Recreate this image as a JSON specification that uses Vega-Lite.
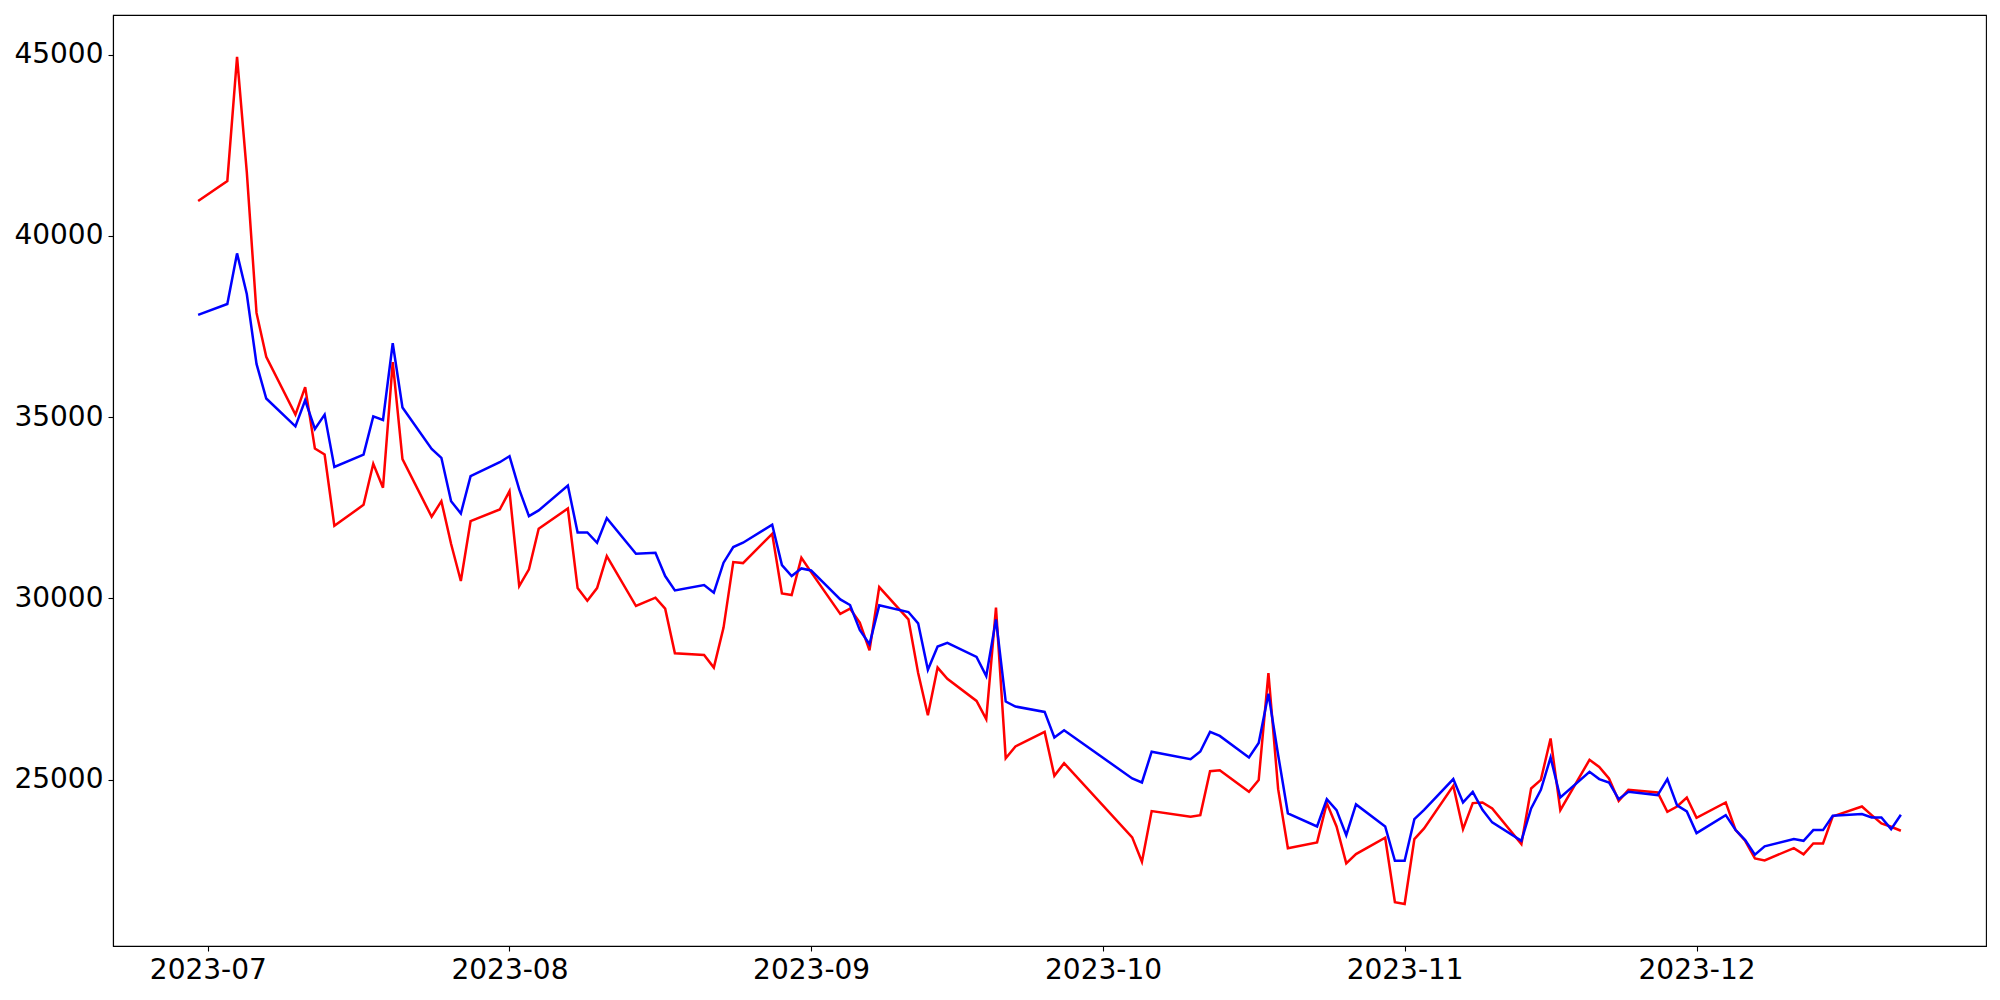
{
  "$schema": "https://vega.github.io/schema/vega-lite/v6.json",
  "width": 1873,
  "height": 931,
  "autosize": {"type": "none"},
  "padding": {"left": 113, "top": 15, "right": 14, "bottom": 54},
  "background": "white",
  "config": {
    "view": {"stroke": "black", "strokeWidth": 1.1},
    "axis": {
      "grid": false,
      "domainColor": "black",
      "domainWidth": 1.1,
      "tickColor": "black",
      "tickWidth": 1.1,
      "tickSize": 5,
      "labelFont": "DejaVu Sans",
      "labelFontSize": 28,
      "labelColor": "black",
      "labelPadding": 5,
      "title": null
    }
  },
  "data": {"values": [
    {"date": "2023-06-30", "r": 40961, "b": 37817},
    {"date": "2023-07-03", "r": 41512, "b": 38118},
    {"date": "2023-07-04", "r": 44937, "b": 39515},
    {"date": "2023-07-05", "r": 41760, "b": 38394},
    {"date": "2023-07-06", "r": 37873, "b": 36465},
    {"date": "2023-07-07", "r": 36663, "b": 35512},
    {"date": "2023-07-10", "r": 35068, "b": 34743},
    {"date": "2023-07-11", "r": 35826, "b": 35462},
    {"date": "2023-07-12", "r": 34132, "b": 34674},
    {"date": "2023-07-13", "r": 33966, "b": 35068},
    {"date": "2023-07-14", "r": 31999, "b": 33622},
    {"date": "2023-07-17", "r": 32578, "b": 33966},
    {"date": "2023-07-18", "r": 33710, "b": 35019},
    {"date": "2023-07-19", "r": 33052, "b": 34919},
    {"date": "2023-07-20", "r": 36515, "b": 37035},
    {"date": "2023-07-21", "r": 33840, "b": 35264},
    {"date": "2023-07-24", "r": 32250, "b": 34123},
    {"date": "2023-07-25", "r": 32680, "b": 33875},
    {"date": "2023-07-26", "r": 31500, "b": 32680},
    {"date": "2023-07-27", "r": 30477, "b": 32341},
    {"date": "2023-07-28", "r": 32128, "b": 33368},
    {"date": "2023-07-31", "r": 32451, "b": 33754},
    {"date": "2023-08-01", "r": 32955, "b": 33920},
    {"date": "2023-08-02", "r": 30338, "b": 33003},
    {"date": "2023-08-03", "r": 30798, "b": 32267},
    {"date": "2023-08-04", "r": 31920, "b": 32424},
    {"date": "2023-08-07", "r": 32478, "b": 33112},
    {"date": "2023-08-08", "r": 30283, "b": 31817},
    {"date": "2023-08-09", "r": 29936, "b": 31817},
    {"date": "2023-08-10", "r": 30283, "b": 31533},
    {"date": "2023-08-11", "r": 31165, "b": 32212},
    {"date": "2023-08-14", "r": 29788, "b": 31230},
    {"date": "2023-08-16", "r": 30019, "b": 31257},
    {"date": "2023-08-17", "r": 29715, "b": 30614},
    {"date": "2023-08-18", "r": 28484, "b": 30219},
    {"date": "2023-08-21", "r": 28437, "b": 30366},
    {"date": "2023-08-22", "r": 28090, "b": 30157},
    {"date": "2023-08-23", "r": 29192, "b": 30983},
    {"date": "2023-08-24", "r": 31000, "b": 31413},
    {"date": "2023-08-25", "r": 30972, "b": 31533},
    {"date": "2023-08-28", "r": 31781, "b": 32029},
    {"date": "2023-08-29", "r": 30137, "b": 30917},
    {"date": "2023-08-30", "r": 30090, "b": 30614},
    {"date": "2023-08-31", "r": 31120, "b": 30825},
    {"date": "2023-09-01", "r": 30724, "b": 30770},
    {"date": "2023-09-04", "r": 29570, "b": 29971},
    {"date": "2023-09-05", "r": 29715, "b": 29815},
    {"date": "2023-09-06", "r": 29330, "b": 29126},
    {"date": "2023-09-07", "r": 28567, "b": 28732},
    {"date": "2023-09-08", "r": 30311, "b": 29806},
    {"date": "2023-09-11", "r": 29420, "b": 29622},
    {"date": "2023-09-12", "r": 27940, "b": 29310},
    {"date": "2023-09-13", "r": 26775, "b": 28030},
    {"date": "2023-09-14", "r": 28090, "b": 28669},
    {"date": "2023-09-15", "r": 27780, "b": 28770},
    {"date": "2023-09-18", "r": 27170, "b": 28383},
    {"date": "2023-09-19", "r": 26666, "b": 27858},
    {"date": "2023-09-20", "r": 29743, "b": 29420},
    {"date": "2023-09-21", "r": 25590, "b": 27153},
    {"date": "2023-09-22", "r": 25913, "b": 27015},
    {"date": "2023-09-25", "r": 26316, "b": 26867},
    {"date": "2023-09-26", "r": 25104, "b": 26161},
    {"date": "2023-09-27", "r": 25454, "b": 26363},
    {"date": "2023-10-04", "r": 23407, "b": 25031},
    {"date": "2023-10-05", "r": 22734, "b": 24921},
    {"date": "2023-10-06", "r": 24130, "b": 25770},
    {"date": "2023-10-10", "r": 23974, "b": 25563},
    {"date": "2023-10-11", "r": 24020, "b": 25775},
    {"date": "2023-10-12", "r": 25233, "b": 26316},
    {"date": "2023-10-13", "r": 25260, "b": 26205},
    {"date": "2023-10-16", "r": 24663, "b": 25610},
    {"date": "2023-10-17", "r": 24990, "b": 26010},
    {"date": "2023-10-18", "r": 27940, "b": 27370},
    {"date": "2023-10-19", "r": 24737, "b": 25680},
    {"date": "2023-10-20", "r": 23105, "b": 24070},
    {"date": "2023-10-23", "r": 23269, "b": 23708},
    {"date": "2023-10-24", "r": 24351, "b": 24460},
    {"date": "2023-10-25", "r": 23708, "b": 24157},
    {"date": "2023-10-26", "r": 22690, "b": 23468},
    {"date": "2023-10-27", "r": 22946, "b": 24315},
    {"date": "2023-10-30", "r": 23396, "b": 23708},
    {"date": "2023-10-31", "r": 21616, "b": 22762},
    {"date": "2023-11-01", "r": 21570, "b": 22762},
    {"date": "2023-11-02", "r": 23360, "b": 23910},
    {"date": "2023-11-03", "r": 23654, "b": 24167},
    {"date": "2023-11-06", "r": 24828, "b": 25013},
    {"date": "2023-11-07", "r": 23635, "b": 24370},
    {"date": "2023-11-08", "r": 24351, "b": 24663},
    {"date": "2023-11-09", "r": 24370, "b": 24167},
    {"date": "2023-11-10", "r": 24204, "b": 23819},
    {"date": "2023-11-13", "r": 23221, "b": 23312},
    {"date": "2023-11-14", "r": 24755, "b": 24204},
    {"date": "2023-11-15", "r": 24994, "b": 24718},
    {"date": "2023-11-16", "r": 26134, "b": 25610},
    {"date": "2023-11-17", "r": 24158, "b": 24508},
    {"date": "2023-11-20", "r": 25545, "b": 25214},
    {"date": "2023-11-21", "r": 25351, "b": 25013},
    {"date": "2023-11-22", "r": 25031, "b": 24921},
    {"date": "2023-11-23", "r": 24414, "b": 24460},
    {"date": "2023-11-24", "r": 24718, "b": 24663},
    {"date": "2023-11-27", "r": 24645, "b": 24572},
    {"date": "2023-11-28", "r": 24112, "b": 25013},
    {"date": "2023-11-29", "r": 24258, "b": 24288},
    {"date": "2023-11-30", "r": 24506, "b": 24122},
    {"date": "2023-12-01", "r": 23947, "b": 23525},
    {"date": "2023-12-04", "r": 24370, "b": 24020},
    {"date": "2023-12-05", "r": 23616, "b": 23616},
    {"date": "2023-12-06", "r": 23312, "b": 23331},
    {"date": "2023-12-07", "r": 22827, "b": 22930},
    {"date": "2023-12-08", "r": 22772, "b": 23160},
    {"date": "2023-12-11", "r": 23111, "b": 23359},
    {"date": "2023-12-12", "r": 22939, "b": 23312},
    {"date": "2023-12-13", "r": 23240, "b": 23607},
    {"date": "2023-12-14", "r": 23240, "b": 23607},
    {"date": "2023-12-15", "r": 23984, "b": 24001},
    {"date": "2023-12-18", "r": 24258, "b": 24049},
    {"date": "2023-12-19", "r": 24020, "b": 23957},
    {"date": "2023-12-20", "r": 23791, "b": 23957},
    {"date": "2023-12-21", "r": 23699, "b": 23635},
    {"date": "2023-12-22", "r": 23589, "b": 24029}
  ]},
  "encoding": {
    "x": {
      "field": "date",
      "type": "temporal",
      "scale": {
        "type": "utc",
        "domain": [
          {"year": 2023, "month": 6, "date": 21, "hours": 6, "utc": true},
          {"year": 2023, "month": 12, "date": 30, "hours": 18, "utc": true}
        ]
      },
      "axis": {
        "labelExpr": "utcFormat(datum.value, '%Y-%m')",
        "labelAngle": 0,
        "values": [
          {"year": 2023, "month": 7, "date": 1, "utc": true},
          {"year": 2023, "month": 8, "date": 1, "utc": true},
          {"year": 2023, "month": 9, "date": 1, "utc": true},
          {"year": 2023, "month": 10, "date": 1, "utc": true},
          {"year": 2023, "month": 11, "date": 1, "utc": true},
          {"year": 2023, "month": 12, "date": 1, "utc": true}
        ]
      }
    }
  },
  "layer": [
    {
      "mark": {"type": "line", "color": "#ff0000", "strokeWidth": 2.5},
      "encoding": {
        "y": {
          "field": "r",
          "type": "quantitative",
          "scale": {"domain": [20410, 46090], "zero": false, "nice": false},
          "axis": {"values": [25000, 30000, 35000, 40000, 45000], "format": "d"}
        }
      }
    },
    {
      "mark": {"type": "line", "color": "#0000ff", "strokeWidth": 2.5},
      "encoding": {
        "y": {"field": "b", "type": "quantitative"}
      }
    }
  ]
}
